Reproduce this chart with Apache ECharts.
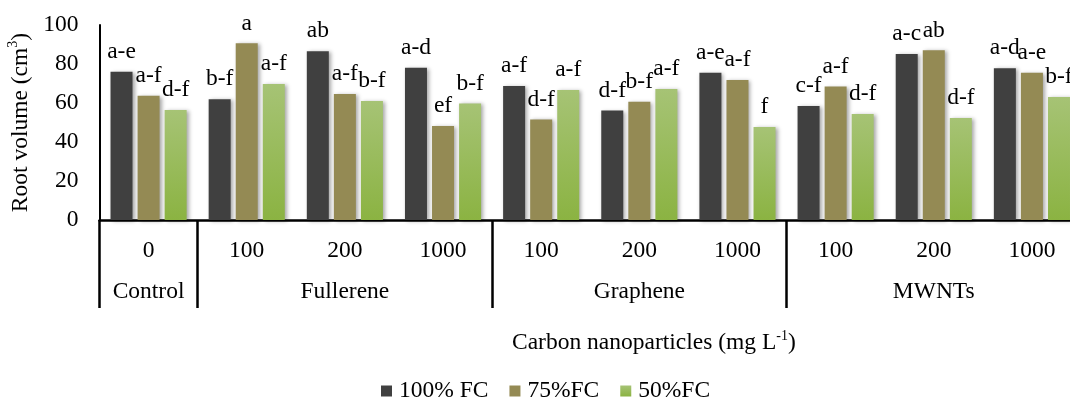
<!DOCTYPE html>
<html>
<head>
<meta charset="utf-8">
<script src="https://cdn.jsdelivr.net/npm/echarts@6/dist/echarts.min.js"></script>
<style>
  html, body { margin: 0; padding: 0; background: #fff; }
  #chart { width: 1070px; height: 401px; }
</style>
</head>
<body>
<div id="chart"></div>
<script>
  // doses (first row of the axis) and treatment groups (second row)
  var doses = ['0', '100', '200', '1000', '100', '200', '1000', '100', '200', '1000']
  var groups = ['Control', '', 'Fullerene', '', '', 'Graphene', '', '', 'MWNTs', '']

  // root volume, cm3
  var fc100 = [76.0, 61.9, 86.5, 78.1, 68.7, 56.1, 75.5, 58.5, 85.1, 77.8]
  var fc75 = [63.7, 90.6, 64.6, 48.2, 51.6, 60.7, 71.8, 68.4, 87.0, 75.5]
  var fc50 = [56.4, 69.7, 61.0, 59.8, 66.7, 67.2, 47.7, 54.4, 52.3, 63.1]

  // significance letters
  var sig100 = ['a-e', 'b-f', 'ab', 'a-d', 'a-f', 'd-f', 'a-e', 'c-f', 'a-c', 'a-d']
  var sig75 = ['a-f', 'a', 'a-f', 'ef', 'd-f', 'b-f', 'a-f', 'a-f', 'ab', 'a-e']
  var sig50 = ['d-f', 'a-f', 'b-f', 'b-f', 'a-f', 'a-f', 'f', 'd-f', 'd-f', 'b-f']

  var yTicks = [0, 20, 40, 60, 80, 100]

  var font = 'Liberation Serif'
  var fs = 23.5
  var chart = echarts.init(document.getElementById('chart'))

  function barSeries(name, values, letters, color) {
    return {
      name: name,
      type: 'bar',
      barWidth: 22,
      barGap: '23%',
      data: values,
      itemStyle: {
        color: color,
        shadowBlur: 4,
        shadowOffsetX: 2,
        shadowOffsetY: 1,
        shadowColor: 'rgba(0, 0, 0, 0.35)'
      },
      label: {
        show: true,
        position: 'top',
        distance: 8,
        fontFamily: font,
        fontSize: fs,
        color: '#000',
        formatter: function (p) { return letters[p.dataIndex] }
      }
    }
  }

  var green = new echarts.graphic.LinearGradient(0, 0, 0, 1, [
    { offset: 0, color: '#a6c375' },
    { offset: 1, color: '#8bb342' }
  ])

  var rich = {
    n: { fontFamily: font, fontSize: fs, fontWeight: 'normal', color: '#000', lineHeight: 28 },
    s: { fontFamily: font, fontSize: 14, fontWeight: 'normal', color: '#000', lineHeight: 14, verticalAlign: 'top' }
  }

  var option = {
    backgroundColor: '#fff',
    animation: false,
    title: {
      text: '{n|Carbon nanoparticles (mg L}{s|-1}{n|)}',
      left: 512,
      top: 329,
      padding: 0,
      textStyle: { fontWeight: 'normal', rich: rich }
    },
    legend: {
      left: 381,
      top: 379,
      padding: 0,
      icon: 'rect',
      itemWidth: 11,
      itemHeight: 11,
      itemGap: 21,
      textStyle: { fontFamily: font, fontSize: fs, color: '#000', padding: [0, 0, 0, 2] },
      data: ['100% FC', '75%FC', '50%FC']
    },
    grid: {
      left: 99.5,
      right: -11,
      top: 25,
      bottom: 181,
      containLabel: false,
      outerBoundsMode: 'none'
    },
    xAxis: [
      {
        type: 'category',
        data: doses,
        position: 'bottom',
        axisLine: { lineStyle: { color: '#000', width: 2.5 } },
        axisTick: { show: false },
        axisLabel: {
          interval: 0,
          margin: 19,
          fontFamily: font,
          fontSize: fs,
          color: '#000'
        }
      },
      {
        type: 'category',
        data: groups,
        position: 'bottom',
        axisLine: { show: false },
        axisTick: {
          show: true,
          length: 88,
          interval: function (idx) { return idx === 0 || idx === 1 || idx === 4 || idx === 7 },
          lineStyle: { color: '#000', width: 2.5 }
        },
        axisLabel: {
          interval: 0,
          margin: 60,
          fontFamily: font,
          fontSize: fs,
          color: '#000'
        }
      }
    ],
    yAxis: {
      type: 'value',
      min: yTicks[0],
      max: yTicks[yTicks.length - 1],
      interval: 20,
      name: '{n|Root volume (cm}{s|3}{n|)}',
      nameLocation: 'middle',
      nameRotate: 90,
      nameGap: 63,
      nameTextStyle: { rich: rich },
      axisLine: { show: true, lineStyle: { color: '#000', width: 2 } },
      axisTick: { show: false },
      splitLine: { show: false },
      axisLabel: {
        margin: 21,
        fontFamily: font,
        fontSize: fs,
        color: '#000'
      }
    },
    series: [
      barSeries('100% FC', fc100, sig100, '#404040'),
      barSeries('75%FC', fc75, sig75, '#948a54'),
      barSeries('50%FC', fc50, sig50, green)
    ]
  }

  chart.setOption(option)
</script>
</body>
</html>
